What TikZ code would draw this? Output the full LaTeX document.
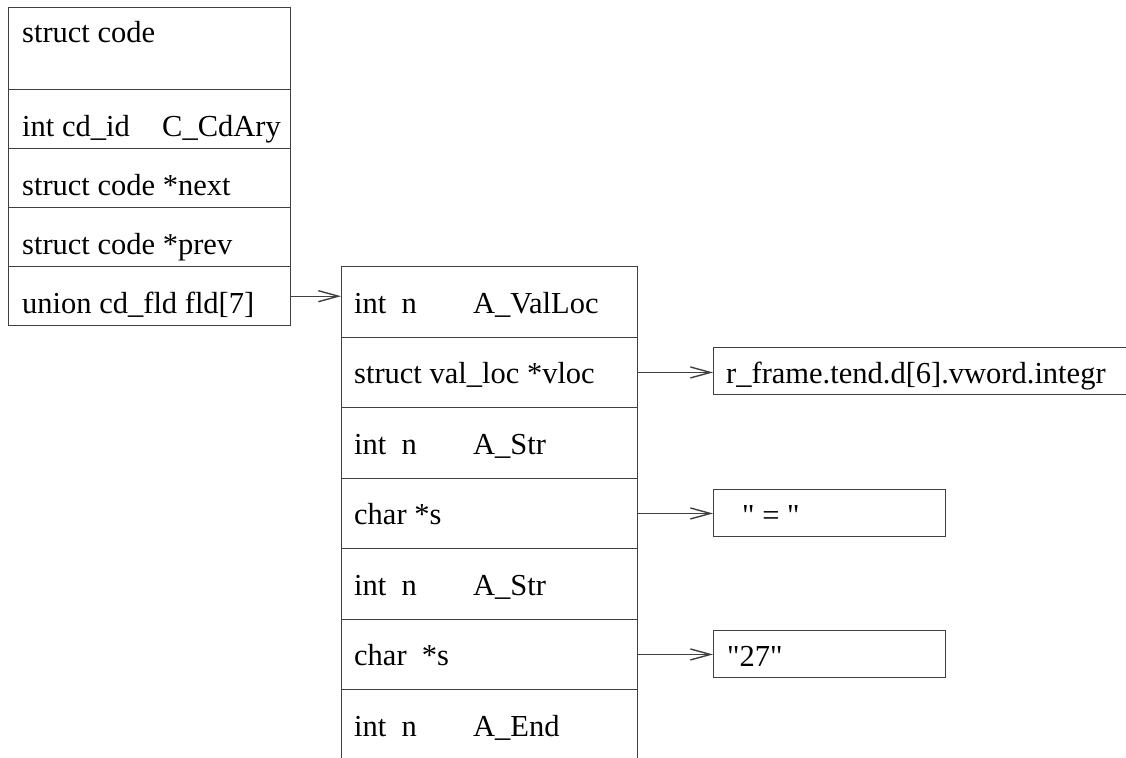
\documentclass[tikz,border=0pt]{standalone}
\usepackage{fontspec}
\setmainfont{Liberation Serif}[Ligatures=TeXOff]
\usetikzlibrary{arrows.meta,calc}
\definecolor{linec}{HTML}{404040}
\begin{document}
\begin{tikzpicture}[x=1pt,y=-1pt,
  box/.style={draw=linec, line width=1.4pt, inner sep=0pt, anchor=north west},
  txt/.style={anchor=base west, inner sep=0pt, font=\fontsize{30.5}{36}\selectfont},
  arr/.style={draw=linec, line width=1.4pt, -{Straight Barb[length=20pt,width=11pt,line width=1.4pt]}}]
\useasboundingbox (0,0) rectangle (1126,757);
\fill[white] (0,0) rectangle (1126,757);
\clip (0,0) rectangle (1126,757);
% left struct
\node[box, minimum width=282pt, minimum height=82pt] (l1) at (8,7) {};
\node[box, minimum width=282pt, minimum height=59pt] (l2) at (8,89) {};
\node[box, minimum width=282pt, minimum height=59pt] (l3) at (8,148) {};
\node[box, minimum width=282pt, minimum height=59pt] (l4) at (8,207) {};
\node[box, minimum width=282pt, minimum height=59pt] (l5) at (8,266) {};
\node[txt] (tl1) at ($(l1.north west)+(14,36)$) {struct code};
\node[txt] (tl2) at ($(l2.north west)+(14,47)$) {\makebox[140pt][l]{int cd\_id}C\_CdAry};
\node[txt] (tl3) at ($(l3.north west)+(14,47)$) {struct code *next};
\node[txt] (tl4) at ($(l4.north west)+(14,47)$) {struct code *prev};
\node[txt] (tl5) at ($(l5.north west)+(14,47)$) {union cd\_fld fld[7]};
% right union array
\node[box, minimum width=296pt, minimum height=70.5pt] (r1) at (341,266) {};
\node[box, minimum width=296pt, minimum height=70.5pt] (r2) at (341,336.5) {};
\node[box, minimum width=296pt, minimum height=70.5pt] (r3) at (341,407) {};
\node[box, minimum width=296pt, minimum height=70.5pt] (r4) at (341,477.5) {};
\node[box, minimum width=296pt, minimum height=70.5pt] (r5) at (341,548) {};
\node[box, minimum width=296pt, minimum height=70.5pt] (r6) at (341,618.5) {};
\node[box, minimum width=296pt, minimum height=70.5pt] (r7) at (341,689) {};
\node[txt] (tr1) at ($(r1.north west)+(13,47)$) {\makebox[119pt][l]{int\ \ n}A\_ValLoc};
\node[txt] (tr2) at ($(r2.north west)+(13,47)$) {struct val\_loc *vloc};
\node[txt] (tr3) at ($(r3.north west)+(13,47)$) {\makebox[119pt][l]{int\ \ n}A\_Str};
\node[txt] (tr4) at ($(r4.north west)+(13,47)$) {char *s};
\node[txt] (tr5) at ($(r5.north west)+(13,47)$) {\makebox[119pt][l]{int\ \ n}A\_Str};
\node[txt] (tr6) at ($(r6.north west)+(13,47)$) {char\ \ *s};
\node[txt] (tr7) at ($(r7.north west)+(13,47)$) {\makebox[119pt][l]{int\ \ n}A\_End};
% value boxes
\node[box, minimum width=430pt, minimum height=47pt] (v1) at (713,347) {};
\node[box, minimum width=232pt, minimum height=47pt] (v2) at (713,489) {};
\node[box, minimum width=232pt, minimum height=47pt] (v3) at (713,630) {};
\node[txt] (tv1) at ($(v1.north west)+(13,36)$) {r\_frame.tend.d[6].vword.integr};
\node[txt] (tv2) at ($(v2.north west)+(29,36)$) {" = "};
\node[txt] (tv3) at ($(v3.north west)+(14,36)$) {"27"};
% connectors
\draw[arr] (l5.east) -- (l5.east -| r1.west);
\draw[arr] (r2.east) -- (r2.east -| v1.west);
\draw[arr] (r4.east) -- (r4.east -| v2.west);
\draw[arr] (r6.east) -- (r6.east -| v3.west);
\end{tikzpicture}
\end{document}
